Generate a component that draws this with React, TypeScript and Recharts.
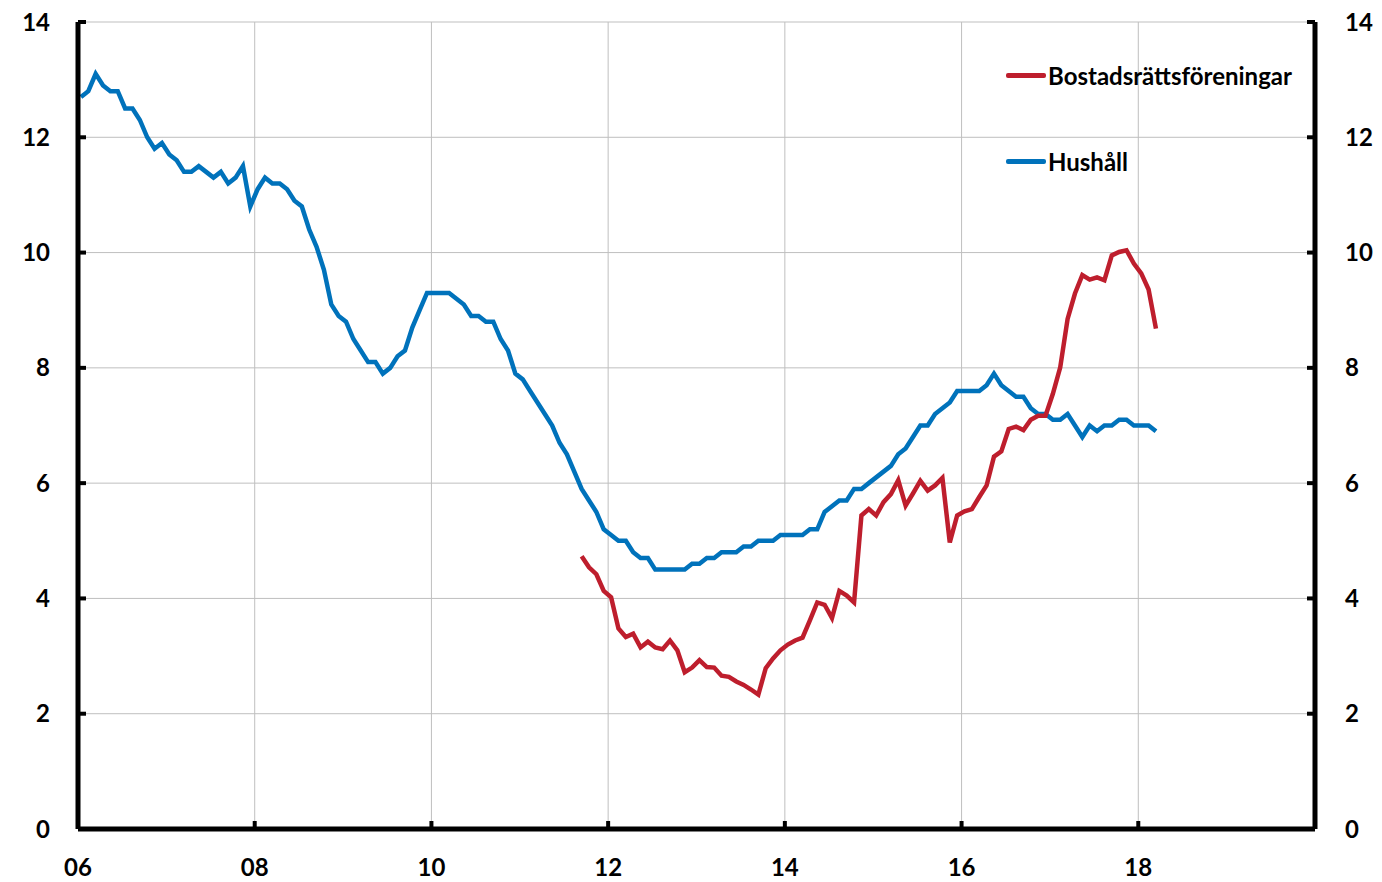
import React from "react";
import {
  LineChart,
  Line,
  XAxis,
  YAxis,
  CartesianGrid,
  Legend,
} from "recharts";

// monthly, first value = Jan 2006
const firstYear = 2006;
const lastYear = 2020;
const xTicks = [2006, 2008, 2010, 2012, 2014, 2016, 2018];
const yTicks = [0, 2, 4, 6, 8, 10, 12, 14];

const hushall = [
  12.7, 12.8, 13.1, 12.9, 12.8, 12.8, 12.5, 12.5, 12.3, 12.0, 11.8, 11.9,
  11.7, 11.6, 11.4, 11.4, 11.5, 11.4, 11.3, 11.4, 11.2, 11.3, 11.5, 10.8,
  11.1, 11.3, 11.2, 11.2, 11.1, 10.9, 10.8, 10.4, 10.1, 9.7, 9.1, 8.9,
  8.8, 8.5, 8.3, 8.1, 8.1, 7.9, 8.0, 8.2, 8.3, 8.7, 9.0, 9.3,
  9.3, 9.3, 9.3, 9.2, 9.1, 8.9, 8.9, 8.8, 8.8, 8.5, 8.3, 7.9,
  7.8, 7.6, 7.4, 7.2, 7.0, 6.7, 6.5, 6.2, 5.9, 5.7, 5.5, 5.2,
  5.1, 5.0, 5.0, 4.8, 4.7, 4.7, 4.5, 4.5, 4.5, 4.5, 4.5, 4.6,
  4.6, 4.7, 4.7, 4.8, 4.8, 4.8, 4.9, 4.9, 5.0, 5.0, 5.0, 5.1,
  5.1, 5.1, 5.1, 5.2, 5.2, 5.5, 5.6, 5.7, 5.7, 5.9, 5.9, 6.0,
  6.1, 6.2, 6.3, 6.5, 6.6, 6.8, 7.0, 7.0, 7.2, 7.3, 7.4, 7.6,
  7.6, 7.6, 7.6, 7.7, 7.9, 7.7, 7.6, 7.5, 7.5, 7.3, 7.2, 7.2,
  7.1, 7.1, 7.2, 7.0, 6.8, 7.0, 6.9, 7.0, 7.0, 7.1, 7.1, 7.0,
  7.0, 7.0, 6.9,
];

// starts Sep 2011 (month index 68)
const brfStart = 68;
const bostadsratt = [
  4.73, 4.54, 4.42, 4.13, 4.02, 3.48, 3.33, 3.39, 3.15, 3.25, 3.15, 3.12,
  3.27, 3.1, 2.72, 2.8, 2.93, 2.81, 2.8, 2.66, 2.64, 2.56, 2.5, 2.42,
  2.33, 2.79, 2.96, 3.1, 3.2, 3.27, 3.32, 3.62, 3.93, 3.89, 3.66, 4.13,
  4.05, 3.93, 5.44, 5.55, 5.44, 5.67, 5.81, 6.05, 5.61, 5.82, 6.04, 5.87,
  5.96, 6.09, 4.97, 5.44, 5.51, 5.55, 5.76, 5.96, 6.46, 6.55, 6.94, 6.98,
  6.92, 7.1, 7.17, 7.17, 7.55, 8.01, 8.85, 9.29, 9.61, 9.53, 9.57, 9.52,
  9.95, 10.01, 10.04, 9.81, 9.64, 9.36, 8.68,
];

const RED = "#BE1E2D";
const BLUE = "#0072BB";
const FONT = "Lato, 'Open Sans', sans-serif";

const data = hushall.map((v, i) => ({
  t: firstYear + (i + 0.4) / 12,
  hushall: v,
  brf: i >= brfStart ? bostadsratt[i - brfStart] : null,
}));

const legendOrder = ["Bostadsrättsföreningar", "Hushåll"];

const LegendBox = ({ payload }: any) => {
  const items = (payload || [])
    .filter((p: any) => legendOrder.includes(p.value))
    .sort((a: any, b: any) => legendOrder.indexOf(a.value) - legendOrder.indexOf(b.value));
  return (
    <div style={{ fontFamily: FONT, fontWeight: 700, fontSize: 24 }}>
      {items.map((it: any) => (
        <div
          key={it.value}
          style={{ display: "flex", alignItems: "center", height: 30, marginBottom: 56 }}
        >
          <span
            style={{
              display: "inline-block",
              width: 40,
              height: 5,
              borderRadius: 2,
              background: it.color,
              marginRight: 2,
            }}
          />
          <span style={{ color: "#000" }}>{it.value}</span>
        </div>
      ))}
    </div>
  );
};

const tickStyle = { fontFamily: FONT, fontWeight: 700, fontSize: 24, fill: "#000" };

export default function App() {
  return (
    <div style={{ position: "absolute", left: 0, top: 0 }}>
      <LineChart
        width={1382}
        height={882}
        data={data}
        margin={{ top: 22, right: 7, bottom: 13, left: 18 }}
      >
        <CartesianGrid
          yAxisId="left"
          stroke="#BFBFBF"
          strokeWidth={1}
          horizontalValues={yTicks}
          verticalValues={xTicks}
        />
        <XAxis
          dataKey="t"
          type="number"
          domain={[firstYear, lastYear]}
          ticks={xTicks}
          interval={0}
          height={40}
          tickFormatter={(v: number) => String(v % 100).padStart(2, "0")}
          tick={tickStyle}
          tickSize={-8}
          tickMargin={38}
          axisLine={{ stroke: "#000", strokeWidth: 5 }}
          tickLine={{ stroke: "#000", strokeWidth: 4 }}
        />
        <YAxis
          yAxisId="left"
          domain={[0, 14]}
          ticks={yTicks}
          interval={0}
          width={60}
          tick={tickStyle}
          tickSize={-8}
          tickMargin={36}
          axisLine={{ stroke: "#000", strokeWidth: 5 }}
          tickLine={{ stroke: "#000", strokeWidth: 4 }}
        />
        <YAxis
          yAxisId="right"
          orientation="right"
          domain={[0, 14]}
          ticks={yTicks}
          interval={0}
          width={60}
          tick={tickStyle}
          tickSize={-8}
          tickMargin={38}
          axisLine={{ stroke: "#000", strokeWidth: 5 }}
          tickLine={{ stroke: "#000", strokeWidth: 4 }}
        />
        <Legend
          verticalAlign="middle"
          align="center"
          layout="vertical"
          content={<LegendBox />}
          wrapperStyle={{ left: 1006, top: 60, width: "auto" }}
        />
        {/* invisible copy so the right axis has a series */}
        <Line
          yAxisId="right"
          type="linear"
          dataKey="hushall"
          name="right"
          stroke="none"
          strokeWidth={0}
          dot={false}
          activeDot={false}
          legendType="none"
          isAnimationActive={false}
        />
        <Line
          yAxisId="left"
          type="linear"
          dataKey="hushall"
          name="Hushåll"
          stroke={BLUE}
          strokeWidth={4.5}
          dot={false}
          activeDot={false}
          isAnimationActive={false}
        />
        <Line
          yAxisId="left"
          type="linear"
          dataKey="brf"
          name="Bostadsrättsföreningar"
          stroke={RED}
          strokeWidth={4.5}
          dot={false}
          activeDot={false}
          isAnimationActive={false}
        />
      </LineChart>
    </div>
  );
}
